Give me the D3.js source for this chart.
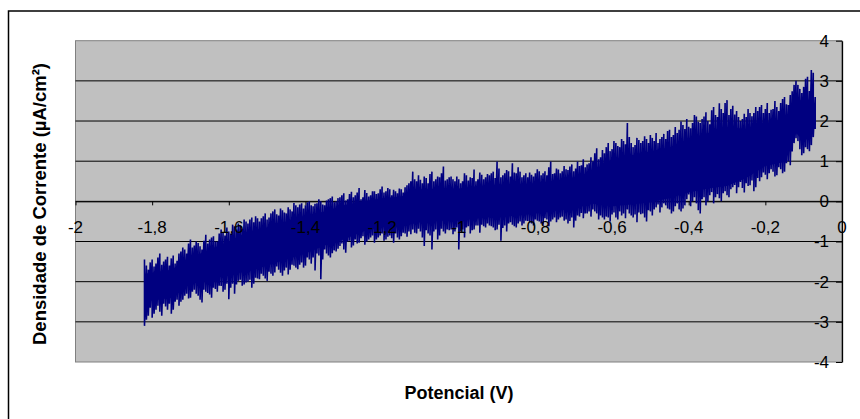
<!DOCTYPE html>
<html>
<head>
<meta charset="utf-8">
<script src="https://cdn.jsdelivr.net/npm/d3@7"></script>
<style>
  body { margin: 0; background: white; }
  text { font-family: "Liberation Sans", Arial, sans-serif; }
</style>
</head>
<body>
<svg id="chart" width="860" height="419"></svg>
<script>
// Tick labels (comma decimal, as in the original)
var xTicks = [-2, -1.8, -1.6, -1.4, -1.2, -1, -0.8, -0.6, -0.4, -0.2, 0];
var xTickLabels = ["-2", "-1,8", "-1,6", "-1,4", "-1,2", "-1", "-0,8", "-0,6", "-0,4", "-0,2", "0"];
var yTicks = [-4, -3, -2, -1, 0, 1, 2, 3, 4];

var potencial = [
  -1.82,-1.81,-1.80,-1.79,-1.78,-1.77,-1.76,-1.75,-1.74,-1.73,
  -1.72,-1.71,-1.70,-1.69,-1.68,-1.67,-1.66,-1.65,-1.64,-1.63,
  -1.62,-1.61,-1.60,-1.59,-1.58,-1.57,-1.56,-1.55,-1.54,-1.53,
  -1.52,-1.51,-1.50,-1.49,-1.48,-1.47,-1.46,-1.45,-1.44,-1.43,
  -1.42,-1.41,-1.40,-1.39,-1.38,-1.37,-1.36,-1.35,-1.34,-1.33,
  -1.32,-1.31,-1.30,-1.29,-1.28,-1.27,-1.26,-1.25,-1.24,-1.23,
  -1.22,-1.21,-1.20,-1.19,-1.18,-1.17,-1.16,-1.15,-1.14,-1.13,
  -1.12,-1.11,-1.10,-1.09,-1.08,-1.07,-1.06,-1.05,-1.04,-1.03,
  -1.02,-1.01,-1.00,-0.99,-0.98,-0.97,-0.96,-0.95,-0.94,-0.93,
  -0.92,-0.91,-0.90,-0.89,-0.88,-0.87,-0.86,-0.85,-0.84,-0.83,
  -0.82,-0.81,-0.80,-0.79,-0.78,-0.77,-0.76,-0.75,-0.74,-0.73,
  -0.72,-0.71,-0.70,-0.69,-0.68,-0.67,-0.66,-0.65,-0.64,-0.63,
  -0.62,-0.61,-0.60,-0.59,-0.58,-0.57,-0.56,-0.55,-0.54,-0.53,
  -0.52,-0.51,-0.50,-0.49,-0.48,-0.47,-0.46,-0.45,-0.44,-0.43,
  -0.42,-0.41,-0.40,-0.39,-0.38,-0.37,-0.36,-0.35,-0.34,-0.33,
  -0.32,-0.31,-0.30,-0.29,-0.28,-0.27,-0.26,-0.25,-0.24,-0.23,
  -0.22,-0.21,-0.20,-0.19,-0.18,-0.17,-0.16,-0.15,-0.14,-0.13,
  -0.12,-0.11,-0.10,-0.09,-0.08,-0.07
];
var picoSup = [
  -1.45,-1.70,-1.45,-1.55,-1.30,-1.50,-1.38,-1.42,-1.55,-1.30,
  -1.15,-1.30,-0.95,-1.10,-1.04,-1.20,-0.83,-0.95,-0.87,-1.00,
  -0.70,-0.85,-0.75,-0.58,-0.70,-0.60,-0.45,-0.55,-0.40,-0.37,
  -0.50,-0.37,-0.45,-0.30,-0.20,-0.35,-0.22,-0.30,-0.20,-0.04,
  -0.15,-0.05,-0.10, 0.00,-0.12,-0.05, 0.00,-0.10, 0.05, 0.12,
   0.00, 0.10, 0.20, 0.05, 0.24, 0.15, 0.33, 0.10, 0.21, 0.15,
   0.25, 0.20, 0.37, 0.25, 0.30, 0.29, 0.20, 0.30, 0.35, 0.45,
   0.74, 0.50, 0.54, 0.62, 0.45, 0.74, 0.55, 0.60, 0.87, 0.55,
   0.62, 0.50, 0.55, 0.50, 0.65, 0.60, 0.79, 0.55, 0.66, 0.60,
   0.65, 0.74, 0.99, 0.60, 0.70, 0.75, 0.95, 0.70, 0.74, 0.65,
   0.60, 0.66, 0.70, 0.75, 0.70, 0.65, 0.99, 0.70, 0.79, 0.75,
   0.80, 0.87, 0.75, 0.99, 0.90, 0.85, 0.95, 1.00, 1.32, 1.10,
   1.20, 1.45, 1.30, 1.45, 1.35, 1.50, 1.95, 1.45, 1.40, 1.53,
   1.50, 1.55, 1.65, 1.50, 1.45, 1.60, 1.55, 1.78, 1.65, 1.70,
   1.99, 1.80, 1.86, 1.95, 2.11, 1.95, 2.11, 2.00, 2.27, 2.15,
   2.44, 2.20, 2.52, 2.30, 2.16, 2.10, 2.05, 2.10, 2.20, 2.20,
   2.25, 2.40, 2.30, 2.20, 2.30, 2.35, 2.45, 2.60, 2.40, 2.74,
   3.00, 2.80, 2.85, 3.10, 3.27, 2.60
];
var picoInf = [
  -3.10,-2.85,-2.90,-2.70,-2.75,-2.55,-2.70,-2.80,-2.50,-2.60,
  -2.45,-2.30,-2.40,-2.20,-2.35,-2.52,-2.25,-2.32,-2.15,-2.25,
  -2.11,-2.20,-2.44,-2.05,-2.07,-1.95,-2.07,-2.00,-2.15,-1.90,
  -1.94,-1.85,-1.98,-1.80,-1.77,-1.70,-1.85,-1.65,-1.70,-1.60,
  -1.69,-1.52,-1.60,-1.45,-1.40,-1.30,-1.94,-1.20,-1.35,-1.29,
  -1.25,-1.11,-1.20,-1.00,-1.15,-0.95,-1.03,-0.87,-1.00,-0.90,
  -1.03,-0.90,-0.80,-0.95,-0.85,-1.03,-0.90,-0.87,-0.80,-0.75,
  -0.70,-0.80,-0.75,-1.11,-0.80,-1.20,-0.70,-0.85,-0.75,-0.70,
  -0.70,-0.75,-1.20,-0.70,-0.65,-0.80,-0.70,-0.60,-0.58,-0.65,
  -0.60,-0.65,-0.70,-0.98,-0.60,-0.55,-0.58,-0.65,-0.50,-0.55,
  -0.49,-0.55,-0.45,-0.50,-0.58,-0.45,-0.50,-0.40,-0.45,-0.38,
  -0.45,-0.49,-0.65,-0.35,-0.29,-0.30,-0.25,-0.20,-0.30,-0.35,
  -0.45,-0.40,-0.33,-0.40,-0.25,-0.30,-0.20,-0.35,-0.33,-0.28,
  -0.30,-0.50,-0.25,-0.20,-0.08,-0.15,-0.10,-0.20,-0.25,-0.05,
  -0.25,-0.10, 0.17, 0.00,-0.05,-0.30, 0.10, 0.00, 0.23, 0.10,
   0.08, 0.20, 0.15, 0.30, 0.41, 0.35, 0.33, 0.45, 0.40, 0.25,
   0.58, 0.60, 0.66, 0.70, 0.74, 0.65, 0.80, 0.74, 1.00, 1.24,
   1.57, 1.30, 1.20, 1.30, 1.40, 1.80
];

// Secondary (in-between) samples of the same trace
var potencialB = [
  -1.815,-1.805,-1.795,-1.785,-1.775,-1.765,-1.755,-1.745,-1.735,-1.725,
  -1.715,-1.705,-1.695,-1.685,-1.675,-1.665,-1.655,-1.645,-1.635,-1.625,
  -1.615,-1.605,-1.595,-1.585,-1.575,-1.565,-1.555,-1.545,-1.535,-1.525,
  -1.515,-1.505,-1.495,-1.485,-1.475,-1.465,-1.455,-1.445,-1.435,-1.425,
  -1.415,-1.405,-1.395,-1.385,-1.375,-1.365,-1.355,-1.345,-1.335,-1.325,
  -1.315,-1.305,-1.295,-1.285,-1.275,-1.265,-1.255,-1.245,-1.235,-1.225,
  -1.215,-1.205,-1.195,-1.185,-1.175,-1.165,-1.155,-1.145,-1.135,-1.125,
  -1.115,-1.105,-1.095,-1.085,-1.075,-1.065,-1.055,-1.045,-1.035,-1.025,
  -1.015,-1.005,-0.995,-0.985,-0.975,-0.965,-0.955,-0.945,-0.935,-0.925,
  -0.915,-0.905,-0.895,-0.885,-0.875,-0.865,-0.855,-0.845,-0.835,-0.825,
  -0.815,-0.805,-0.795,-0.785,-0.775,-0.765,-0.755,-0.745,-0.735,-0.725,
  -0.715,-0.705,-0.695,-0.685,-0.675,-0.665,-0.655,-0.645,-0.635,-0.625,
  -0.615,-0.605,-0.595,-0.585,-0.575,-0.565,-0.555,-0.545,-0.535,-0.525,
  -0.515,-0.505,-0.495,-0.485,-0.475,-0.465,-0.455,-0.445,-0.435,-0.425,
  -0.415,-0.405,-0.395,-0.385,-0.375,-0.365,-0.355,-0.345,-0.335,-0.325,
  -0.315,-0.305,-0.295,-0.285,-0.275,-0.265,-0.255,-0.245,-0.235,-0.225,
  -0.215,-0.205,-0.195,-0.185,-0.175,-0.165,-0.155,-0.145,-0.135,-0.125,
  -0.115,-0.105,-0.095,-0.085,-0.075
];
var picoSupB = [
  -1.60,-1.52,-1.62,-1.40,-1.58,-1.45,-1.60,-1.35,-1.48,-1.25,
  -1.20,-1.05,-1.15,-1.00,-1.12,-0.98,-1.05,-0.90,-1.00,-0.80,
  -0.78,-0.65,-0.80,-0.62,-0.55,-0.68,-0.50,-0.45,-0.52,-0.42,
  -0.42,-0.30,-0.40,-0.25,-0.32,-0.18,-0.28,-0.15,-0.25,-0.10,
  -0.08,-0.18,-0.02,-0.10,-0.06, 0.05,-0.08, 0.02, 0.08,-0.02,
   0.08, 0.15, 0.02, 0.18, 0.10, 0.22, 0.05, 0.28, 0.12, 0.25,
   0.18, 0.30, 0.22, 0.33, 0.15, 0.25, 0.32, 0.22, 0.40, 0.50,
   0.55, 0.65, 0.45, 0.58, 0.68, 0.50, 0.62, 0.70, 0.52, 0.60,
   0.55, 0.62, 0.45, 0.70, 0.52, 0.58, 0.50, 0.72, 0.55, 0.68,
   0.70, 0.58, 0.82, 0.65, 0.78, 0.62, 0.72, 0.85, 0.60, 0.70,
   0.72, 0.62, 0.80, 0.65, 0.75, 0.85, 0.68, 0.82, 0.70, 0.88,
   0.78, 0.92, 0.82, 0.88, 1.05, 0.92, 1.10, 1.20, 1.05, 1.28,
   1.35, 1.25, 1.50, 1.38, 1.55, 1.42, 1.60, 1.35, 1.58, 1.45,
   1.62, 1.45, 1.58, 1.70, 1.55, 1.68, 1.75, 1.60, 1.85, 1.78,
   1.90, 2.05, 1.82, 2.15, 1.98, 2.05, 2.22, 1.92, 2.35, 2.10,
   2.30, 2.45, 2.15, 2.38, 2.25, 2.00, 2.18, 2.30, 2.12, 2.35,
   2.35, 2.20, 2.45, 2.28, 2.50, 2.25, 2.55, 2.42, 2.65, 2.90,
   2.90, 2.70, 3.05, 2.75, 3.20
];
var picoInfB = [
  -2.95,-2.65,-2.80,-2.60,-2.85,-2.62,-2.55,-2.70,-2.45,-2.50,
  -2.35,-2.42,-2.25,-2.30,-2.45,-2.20,-2.28,-2.40,-2.18,-2.10,
  -2.25,-2.05,-2.15,-2.30,-1.98,-2.10,-2.02,-1.95,-2.05,-1.92,
  -1.80,-1.92,-1.75,-1.85,-1.62,-1.78,-1.72,-1.82,-1.58,-1.65,
  -1.58,-1.65,-1.40,-1.55,-1.72,-1.35,-1.45,-1.30,-1.40,-1.22,
  -1.18,-1.05,-1.28,-0.98,-1.10,-1.05,-0.92,-1.08,-0.95,-0.85,
  -0.95,-0.85,-0.98,-0.88,-0.92,-0.80,-0.95,-0.78,-0.88,-0.82,
  -0.78,-0.68,-0.90,-0.72,-0.85,-0.75,-0.95,-0.68,-0.80,-0.72,
  -0.82,-0.65,-0.75,-0.90,-0.62,-0.72,-0.60,-0.78,-0.62,-0.55,
  -0.62,-0.72,-0.58,-0.66,-0.75,-0.52,-0.62,-0.55,-0.60,-0.48,
  -0.52,-0.60,-0.48,-0.55,-0.42,-0.62,-0.45,-0.52,-0.40,-0.48,
  -0.55,-0.40,-0.48,-0.38,-0.42,-0.30,-0.38,-0.25,-0.45,-0.40,
  -0.38,-0.50,-0.28,-0.45,-0.35,-0.42,-0.30,-0.40,-0.52,-0.32,
  -0.40,-0.22,-0.35,-0.15,-0.28,-0.05,-0.18,-0.30,-0.12,-0.20,
  -0.18, 0.05,-0.12, 0.10,-0.22, 0.05,-0.10, 0.15,-0.05, 0.18,
   0.00, 0.25, 0.10, 0.35, 0.20, 0.48, 0.22, 0.38, 0.52, 0.35,
   0.50, 0.72, 0.55, 0.80, 0.62, 0.85, 0.70, 0.95, 0.90, 1.45,
   1.50, 1.15, 1.35, 1.25, 1.60
];

// Dense core of the noise band (where the trace fills solid)
var nucleoX = [-1.82,-1.75,-1.70,-1.65,-1.60,-1.55,-1.50,-1.45,-1.40,-1.35,-1.30,-1.25,-1.20,
  -1.15,-1.10,-1.05,-1.00,-0.95,-0.90,-0.85,-0.80,-0.75,-0.70,-0.65,-0.60,-0.55,-0.50,
  -0.45,-0.40,-0.35,-0.30,-0.25,-0.20,-0.15,-0.13,-0.12,-0.10,-0.08,-0.07];
var nucleoSup = [-1.80,-1.70,-1.40,-1.20,-1.00,-0.75,-0.65,-0.50,-0.35,-0.25,-0.10,0.00,0.08,
  0.12,0.30,0.32,0.32,0.38,0.42,0.42,0.45,0.50,0.60,0.75,1.05,1.15,1.25,
  1.35,1.55,1.70,1.85,1.80,1.95,2.05,2.30,2.55,2.50,2.55,2.35];
var nucleoInf = [-2.50,-2.40,-2.05,-1.95,-1.80,-1.75,-1.60,-1.45,-1.30,-1.10,-0.95,-0.75,-0.62,
  -0.62,-0.52,-0.48,-0.48,-0.42,-0.38,-0.36,-0.30,-0.24,-0.18,-0.06,-0.12,-0.08,-0.02,
  0.08,0.22,0.32,0.38,0.58,0.88,0.98,1.40,1.70,1.50,1.60,1.95];

// Colours
var plotColour = '#c0c0c0';
var plotBorderColour = '#808080';
var gridColour = 'black';
var seriesColour = '#000080';
var textColour = 'black';

var svg = d3.select("#chart");

var plot = { left: 75.5, right: 842, top: 40.7, bottom: 362 };

var x = d3.scaleLinear().domain([-2, 0]).range([plot.left, plot.right]);
var y = d3.scaleLinear().domain([-4, 4]).range([plot.bottom, plot.top]);

// Outer chart frame (runs off the right and bottom edges)
svg.append("rect")
  .attr("x", 8.5)
  .attr("y", 11)
  .attr("width", 900)
  .attr("height", 500)
  .attr("fill", "white")
  .attr("stroke", "black")
  .attr("stroke-width", 1.5);

// Plot area
svg.append("rect")
  .attr("x", plot.left)
  .attr("y", plot.top)
  .attr("width", plot.right - plot.left)
  .attr("height", plot.bottom - plot.top)
  .attr("fill", plotColour)
  .attr("stroke", plotBorderColour)
  .attr("stroke-width", 1);

// Horizontal gridlines
svg.selectAll("line.grid")
  .data(yTicks.filter(function (d) { return d > -4 && d < 4; }))
  .enter().append("line")
  .attr("class", "grid")
  .attr("x1", plot.left)
  .attr("x2", plot.right)
  .attr("y1", function (d) { return y(d); })
  .attr("y2", function (d) { return y(d); })
  .attr("stroke", gridColour)
  .attr("stroke-width", 1);

// X axis line and ticks (labels go on top of the data later)
var xAxisG = svg.append("g")
  .attr("transform", "translate(0," + y(0) + ")")
  .call(d3.axisBottom(x).tickValues(xTicks).tickSize(4).tickSizeOuter(0).tickFormat(""));
xAxisG.select(".domain").attr("stroke", gridColour);
xAxisG.selectAll(".tick line").attr("stroke", gridColour);

// Dense core
var area = d3.area()
  .x(function (d, i) { return x(nucleoX[i]); })
  .y0(function (d, i) { return y(nucleoInf[i]); })
  .y1(function (d, i) { return y(nucleoSup[i]); });

svg.append("path")
  .datum(nucleoX)
  .attr("d", area)
  .attr("fill", seriesColour);

// Noisy trace: each sample swings from its upper to its lower peak
var traco = [];
potencial.forEach(function (v, i) {
  traco.push([v, picoSup[i]]);
  traco.push([v, picoInf[i]]);
  if (i < potencialB.length) {
    traco.push([potencialB[i], picoSupB[i]]);
    traco.push([potencialB[i], picoInfB[i]]);
  }
});

var line = d3.line()
  .x(function (d) { return x(d[0]); })
  .y(function (d) { return y(d[1]); });

svg.append("path")
  .datum(traco)
  .attr("d", line)
  .attr("fill", "none")
  .attr("stroke", seriesColour)
  .attr("stroke-width", 1.6)
  .attr("stroke-linejoin", "bevel");

// X tick labels
svg.selectAll("text.xlabel")
  .data(xTicks)
  .enter().append("text")
  .attr("class", "xlabel")
  .attr("x", function (d) { return x(d); })
  .attr("y", y(0) + 32)
  .attr("text-anchor", "middle")
  .attr("font-size", 17)
  .attr("fill", textColour)
  .text(function (d, i) { return xTickLabels[i]; });

// Y axis on the right edge of the plot, ticks and labels pointing inward
var yAxisG = svg.append("g")
  .attr("transform", "translate(" + plot.right + ",0)")
  .call(d3.axisLeft(y).tickValues(yTicks).tickSize(6).tickSizeOuter(0).tickPadding(7)
    .tickFormat(function (d) { return d < 0 ? "-" + Math.abs(d) : String(d); }));
yAxisG.select(".domain").attr("stroke", "black").attr("stroke-width", 1.3);
yAxisG.selectAll(".tick line").attr("stroke", "black");
yAxisG.selectAll(".tick text")
  .attr("font-size", 17)
  .attr("font-family", "'Liberation Sans', Arial, sans-serif")
  .attr("fill", textColour);

// Axis titles
svg.append("text")
  .attr("x", 459)
  .attr("y", 399)
  .attr("text-anchor", "middle")
  .attr("font-size", 18)
  .attr("font-weight", "bold")
  .attr("fill", textColour)
  .text("Potencial (V)");

svg.append("text")
  .attr("transform", "translate(46," + 204 + ") rotate(-90)")
  .attr("text-anchor", "middle")
  .attr("font-size", 18.5)
  .attr("font-weight", "bold")
  .attr("fill", textColour)
  .text("Densidade de Corrente (µA/cm²)");
</script>
</body>
</html>
